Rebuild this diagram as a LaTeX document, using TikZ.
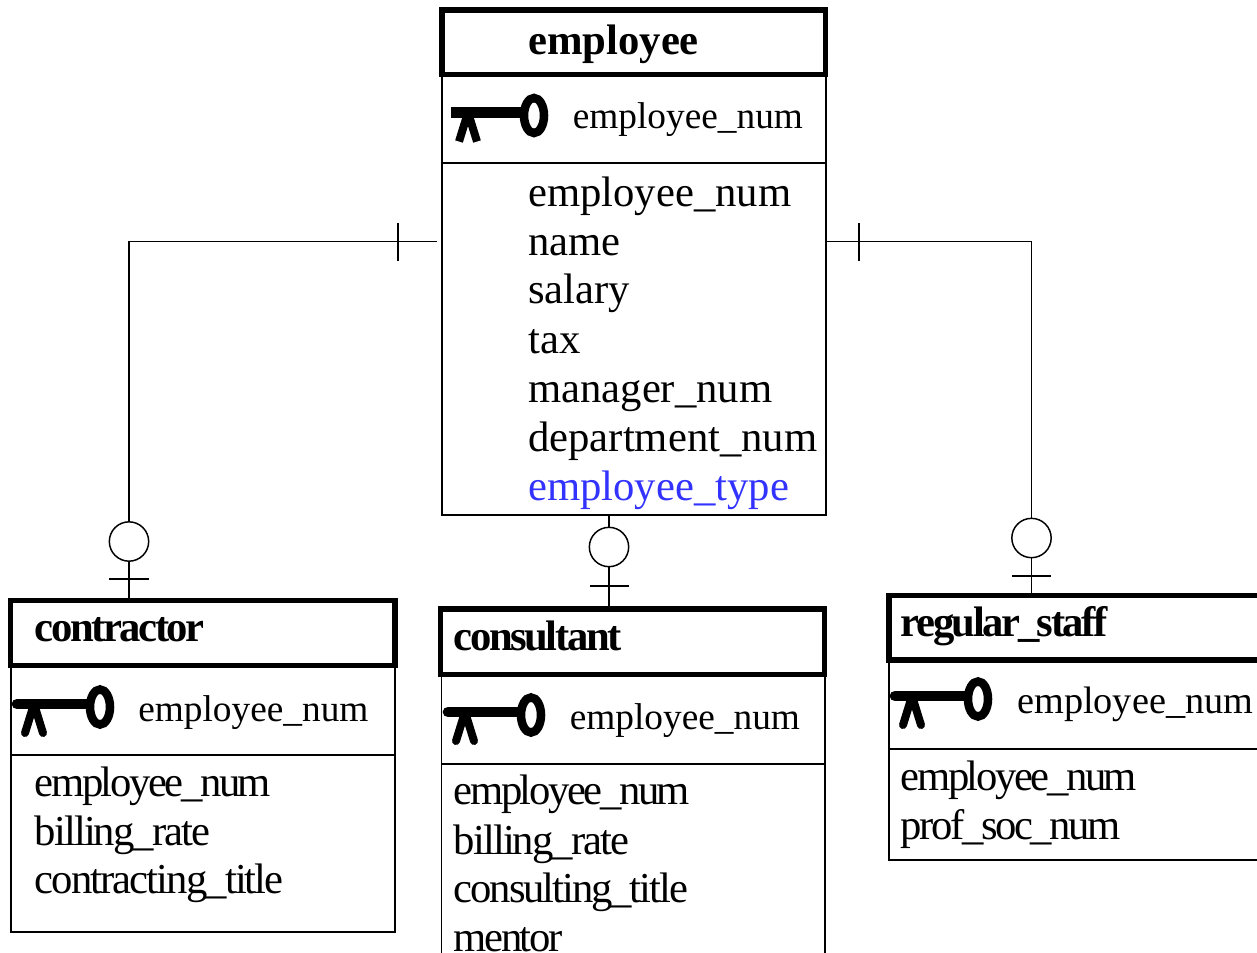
\documentclass[tikz,border=0pt]{standalone}
\usepackage{fontspec}
\setmainfont{Liberation Serif}
\newfontfamily\tightfont[LetterSpace=-5.7]{Liberation Serif}
\newfontfamily\looserfont[LetterSpace=-4.5]{Liberation Serif}
\newfontfamily\midfont[LetterSpace=-4.9]{Liberation Serif}
\usetikzlibrary{fit}
\tikzset{
  headbox/.style={draw,line width=4pt,inner sep=0pt},
  bodybox/.style={draw,line width=1.1pt,inner sep=0pt},
  rule/.style={line width=1.1pt},
  link/.style={line width=1.1pt},
  ring/.style={circle,draw,fill=white,line width=1.1pt,inner sep=0pt,minimum size=29.5pt},
  headtext/.style={anchor=base west,inner sep=0pt,font=\fontsize{32}{36}\selectfont\bfseries},
  tighthead/.style={anchor=base west,inner sep=0pt,font=\fontsize{32}{36}\tightfont\bfseries},
  keytext/.style={anchor=base west,inner sep=0pt,font=\fontsize{28}{32}\selectfont},
  attr/.style={anchor=base west,inner sep=0pt,font=\fontsize{32}{36}\selectfont},
  tightattr/.style={anchor=base west,inner sep=0pt,font=\fontsize{32}{36}\tightfont},
  looseattr/.style={anchor=base west,inner sep=0pt,font=\fontsize{32}{36}\looserfont},
  midattr/.style={anchor=base west,inner sep=0pt,font=\fontsize{32}{36}\midfont},
  keyicon/.pic={
    \draw [line width=8pt] (-83,3) -- (-12,3) ;
    \draw [line width=6pt,line join=bevel] (-75,-26) -- (-66,3) -- (-57,-26) ;
    \draw [line width=6.4pt] (0,0) ellipse (10 and 17.5) ;
  }
}
\begin{document}
\begin{tikzpicture}[x=0.75pt,y=0.75pt,yscale=-1,xscale=1]
  \useasboundingbox (0,0) rectangle (1257,953);
  \clip (0,0) rectangle (1257,953);

  % employee
  \node [bodybox,fit={(442,75) (826,515)}] (employeebody) {};
  \node [headbox,fit={(442,10) (825.5,74.5)}] (employeehead) {};
  \draw [rule] (442,163) -- (826,163) ;
  \pic [line cap=butt] (employeekey) at (534,115.5) {keyicon};
  \draw (528,54) node [headtext] (employeetitle) {employee};
  \draw (572.5,128) node [keytext] (employeepk) {employee\_num};
  \draw (528,206.5) node [attr] (employeenum) {employee\_num};
  \draw (528,255.5) node [attr] (employeename) {name};
  \draw (528,303.5) node [attr] (employeesalary) {salary};
  \draw (528,353) node [attr] (employeetax) {tax};
  \draw (528,402.5) node [attr] (employeemanager) {manager\_num};
  \draw (528,451.5) node [attr] (employeedept) {department\_num};
  \draw (528,500.5) node [attr,text={rgb,255:red,51;green,51;blue,255}] (employeetype) {employee\_type};

  % contractor
  \node [bodybox,fit={(11,666) (395,932)}] (contractorbody) {};
  \node [headbox,fit={(10.5,600.5) (395,665.5)}] (contractorhead) {};
  \draw [rule] (11,755) -- (395,755) ;
  \pic [line cap=round] (contractorkey) at (100,707) {keyicon};
  \draw (34.5,641) node [tighthead] (contractortitle) {contractor};
  \draw (138,721) node [keytext] (contractorpk) {employee\_num};
  \draw (34.5,796) node [tightattr] (contractornum) {employee\_num};
  \draw (34.5,845) node [looseattr] (contractorrate) {billing\_rate};
  \draw (34.5,893.5) node [looseattr] (contractorjob) {contracting\_title};

  % consultant
  \node [bodybox,fit={(441.5,675) (825,1000)}] (consultantbody) {};
  \node [headbox,fit={(440.5,609) (824.5,674.5)}] (consultanthead) {};
  \draw [rule] (441.5,764) -- (825,764) ;
  \pic [line cap=round] (consultantkey) at (531,715) {keyicon};
  \draw (453.5,650) node [tighthead] (consultanttitle) {consultant};
  \draw (569.5,729) node [keytext] (consultantpk) {employee\_num};
  \draw (453.5,804) node [tightattr] (consultantnum) {employee\_num};
  \draw (453.5,854) node [looseattr] (consultantrate) {billing\_rate};
  \draw (453.5,902) node [midattr] (consultantjob) {consulting\_title};
  \draw (453.5,951) node [tightattr] (consultantmentor) {mentor};

  % regular_staff
  \node [bodybox,fit={(889,660) (1300,860)}] (staffbody) {};
  \node [headbox,fit={(889,595.5) (1300,660)}] (staffhead) {};
  \draw [rule] (889,749) -- (1300,749) ;
  \pic [line cap=round] (staffkey) at (978,699) {keyicon};
  \draw (900.5,636) node [tighthead] (stafftitle) {regular\_staff};
  \draw (1017,713) node [keytext,font=\fontsize{28.7}{32}\selectfont] (staffpk) {employee\_num};
  \draw (900.5,790) node [tightattr] (staffnum) {employee\_num};
  \draw (900.5,839) node [tightattr] (staffsoc) {prof\_soc\_num};

  % links
  \coordinate (contractordrop) at (129,598);
  \coordinate (consultantdrop) at (609,606);
  \coordinate (staffdrop) at (1031.5,594);
  \coordinate (leftstart) at (437,241.5);
  \draw [link] (leftstart) -| (contractordrop) ;
  \draw [link] (employeebody.south -| consultantdrop) -- (consultantdrop) ;
  \draw [link] (employeebody.east |- leftstart) -| (staffdrop) ;
  \node [ring] (contractorring) at (129,541.5) {};
  \node [ring] (consultantring) at (609,547) {};
  \node [ring] (staffring) at (1031.5,538) {};
  % ticks
  \draw [link] (398,223) -- (398,261) ;
  \draw [link] (859,223) -- (859,261) ;
  \draw [link] (109,579) -- (149,579) ;
  \draw [link] (590,586) -- (629,586) ;
  \draw [link] (1012,576) -- (1051,576) ;
\end{tikzpicture}
\end{document}
